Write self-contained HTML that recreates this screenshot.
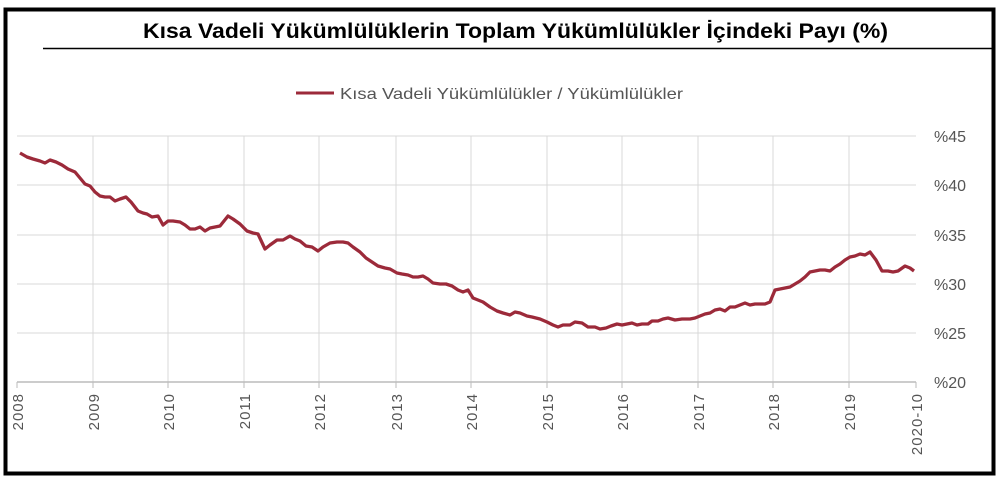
<!DOCTYPE html>
<html><head><meta charset="utf-8"><style>
body{margin:0;background:#fff;}
svg{display:block;font-family:"Liberation Sans","DejaVu Sans",sans-serif;}
</style></head><body>
<svg width="1000" height="480" viewBox="0 0 1000 480">
<rect x="0" y="0" width="1000" height="480" fill="#fff"/>
<rect x="5.5" y="9.5" width="988" height="464" fill="none" stroke="#000" stroke-width="4"/>
<line x1="43" y1="48.5" x2="994" y2="48.5" stroke="#000" stroke-width="1.5"/>
<text x="143" y="38" font-size="21" font-weight="bold" textLength="745" lengthAdjust="spacingAndGlyphs" fill="#000">Kısa Vadeli Yükümlülüklerin Toplam Yükümlülükler İçindeki Payı (%)</text>
<line x1="296" y1="93" x2="334" y2="93" stroke="#9c2a3a" stroke-width="3"/>
<text x="340" y="99" font-size="16" textLength="343" lengthAdjust="spacingAndGlyphs" fill="#555">Kısa Vadeli Yükümlülükler / Yükümlülükler</text>
<g stroke="#d9d9d9" stroke-width="1">
<line x1="17" y1="136" x2="916" y2="136"/><line x1="17" y1="185" x2="916" y2="185"/>
<line x1="17" y1="235" x2="916" y2="235"/><line x1="17" y1="284" x2="916" y2="284"/>
<line x1="17" y1="333" x2="916" y2="333"/>
<line x1="93" y1="136" x2="93" y2="382"/><line x1="168" y1="136" x2="168" y2="382"/>
<line x1="244" y1="136" x2="244" y2="382"/><line x1="319" y1="136" x2="319" y2="382"/>
<line x1="396" y1="136" x2="396" y2="382"/><line x1="471" y1="136" x2="471" y2="382"/>
<line x1="547" y1="136" x2="547" y2="382"/><line x1="622" y1="136" x2="622" y2="382"/>
<line x1="698" y1="136" x2="698" y2="382"/><line x1="773" y1="136" x2="773" y2="382"/>
<line x1="849" y1="136" x2="849" y2="382"/>
</g>
<line x1="17" y1="382" x2="916" y2="382" stroke="#bbb" stroke-width="1.5"/>
<g stroke="#bbb"><line x1="17" y1="382" x2="17" y2="388"/><line x1="93" y1="382" x2="93" y2="388"/><line x1="168" y1="382" x2="168" y2="388"/><line x1="244" y1="382" x2="244" y2="388"/><line x1="319" y1="382" x2="319" y2="388"/><line x1="396" y1="382" x2="396" y2="388"/><line x1="471" y1="382" x2="471" y2="388"/><line x1="547" y1="382" x2="547" y2="388"/><line x1="622" y1="382" x2="622" y2="388"/><line x1="698" y1="382" x2="698" y2="388"/><line x1="773" y1="382" x2="773" y2="388"/><line x1="849" y1="382" x2="849" y2="388"/><line x1="916" y1="382" x2="916" y2="388"/></g>
<g font-size="16" fill="#555">
<text x="934" y="142">%45</text><text x="934" y="191">%40</text><text x="934" y="241">%35</text>
<text x="934" y="290">%30</text><text x="934" y="339">%25</text><text x="934" y="388">%20</text>
</g>
<g font-size="15" fill="#555" text-anchor="end" letter-spacing="1">
<text transform="translate(23,393) rotate(-90)">2008</text>
<text transform="translate(99,393) rotate(-90)">2009</text>
<text transform="translate(174,393) rotate(-90)">2010</text>
<text transform="translate(250,393) rotate(-90)">2011</text>
<text transform="translate(325,393) rotate(-90)">2012</text>
<text transform="translate(402,393) rotate(-90)">2013</text>
<text transform="translate(477,393) rotate(-90)">2014</text>
<text transform="translate(553,393) rotate(-90)">2015</text>
<text transform="translate(628,393) rotate(-90)">2016</text>
<text transform="translate(704,393) rotate(-90)">2017</text>
<text transform="translate(779,393) rotate(-90)">2018</text>
<text transform="translate(855,393) rotate(-90)">2019</text>
<text transform="translate(922,393) rotate(-90)">2020-10</text>
</g>
<polyline fill="none" stroke="#9c2a3a" stroke-width="3.3" stroke-linejoin="round" points="20,153 27,157 33,159 40,161 45,163 50,160 56,162 62,165 68,169 75,172 80,178 85,184 90,186 95,192 100,196 105,197 110,197 115,201 120,199 126,197 131,202 138,211 143,213 147,214 152,217 158,216 163,225 168,221 173,221 180,222 185,225 190,229 195,229 200,227 205,231 210,228 215,227 220,226 228,216 233,219 240,224 247,231 253,233 258,234 265,249 270,245 277,240 283,240 290,236 295,239 300,241 306,246 312,247 318,251 323,247 330,243 337,242 343,242 348,243 353,247 360,252 366,258 372,262 378,266 385,268 390,269 397,273 402,274 408,275 413,277 418,277 423,276 428,279 433,283 440,284 446,284 452,286 458,290 463,292 468,290 473,298 478,300 483,302 490,307 497,311 503,313 510,315 515,312 520,313 527,316 532,317 540,319 547,322 553,325 558,327 563,325 570,325 575,322 582,323 588,327 595,327 600,329 606,328 611,326 617,324 622,325 627,324 632,323 637,325 642,324 648,324 652,321 658,321 663,319 668,318 675,320 682,319 690,319 695,318 700,316 705,314 710,313 715,310 720,309 725,311 730,307 735,307 740,305 745,303 750,305 755,304 760,304 765,304 770,302 775,290 780,289 785,288 790,287 795,284 800,281 805,277 810,272 815,271 820,270 825,270 830,271 835,267 840,264 845,260 850,257 855,256 860,254 865,255 870,252 876,260 882,271 888,271 893,272 898,271 905,266 910,268 914,271"/>
</svg>
</body></html>
